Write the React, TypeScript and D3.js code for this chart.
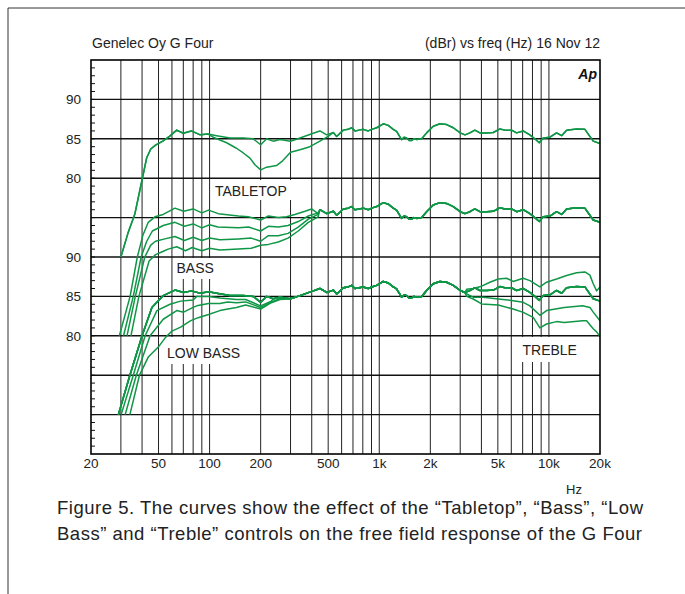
import * as d3 from 'd3'

type Pt = [number, number]

// frequency axis
const hzTicks = [20, 50, 100, 200, 500, 1000, 2000, 5000, 10000, 20000]
const hzLabels = ['20', '50', '100', '200', '500', '1k', '2k', '5k', '10k', '20k']
const hzGrid = [30, 40, 50, 60, 70, 80, 90, 100, 200, 300, 400, 500, 600, 700, 800, 900,
  1000, 2000, 3000, 4000, 5000, 6000, 7000, 8000, 9000, 10000]

// level axis (curves are stacked with 10 dB offsets, labels repeat)
const dbGrid = [90, 85, 80, 75, 70, 65, 60, 55, 50]
const dbTickValues = [90, 85, 80, 70, 65, 60]
const dbTickLabels = ['90', '85', '80', '90', '85', '80']

// flat response (top trace), 100 Hz .. 20 kHz
const flatResponse: Pt[] = [
  [110, 85.4], [132, 85.1], [158, 85.1], [181, 85.0], [200, 84.25], [217, 85.0], [237, 84.7],
  [260, 84.9], [300, 84.7], [341, 85.1], [408, 85.7], [447, 86.0], [490, 85.5], [536, 85.8],
  [561, 85.3], [614, 86.1], [656, 86.2], [687, 86.4], [719, 86.0], [760, 86.1], [805, 86.2],
  [861, 86.0], [902, 86.2], [966, 86.4], [1056, 86.9], [1130, 86.7], [1209, 86.2], [1265, 85.95],
  [1354, 84.9], [1400, 85.2], [1450, 85.1], [1500, 84.8], [1552, 84.8], [1600, 85.0], [1661, 84.9],
  [1778, 85.0], [1902, 85.75], [2081, 86.6], [2279, 86.9], [2494, 86.8], [2730, 86.4], [3000, 85.75],
  [3200, 85.5], [3422, 85.75], [3660, 86.1], [3920, 85.75], [4294, 85.75], [4700, 85.8], [5140, 86.25],
  [5500, 86.1], [6025, 86.1], [6450, 85.75], [7050, 86.0], [7720, 85.5], [8260, 85.0], [8770, 84.5],
  [9250, 85.1], [10140, 85.2], [11090, 85.75], [11880, 85.4], [12710, 86.1], [14560, 86.25],
  [16300, 86.2], [18240, 84.7], [20000, 84.4],
]

// TABLETOP group
const tabletopLow: Pt[] = [
  [30, 70], [33, 73], [36.3, 75.5], [40, 79.8], [42.6, 82.6], [45, 83.7], [48, 84.2], [53, 84.7],
  [58, 85.3], [64, 86.1], [70, 85.7], [78, 86.0], [88, 85.5], [98, 85.6],
]
const tabletopDip: Pt[] = [
  [105, 85.2], [126, 84.5], [144, 83.8], [158, 83.2], [173, 82.55], [185, 81.7], [200, 81.06],
  [217, 81.4], [248, 81.6], [266, 82.1], [300, 83.3], [341, 83.6], [390, 84.0], [447, 84.7], [500, 85.3],
]

// BASS group
const bass1: Pt[] = [
  [29.4, 60], [34, 65], [37.5, 70], [40.5, 72.8], [43.5, 74.4], [47.6, 75.1], [53.3, 75.4],
  [62.5, 76.2], [70.3, 75.8], [80, 76.1], [90, 75.6], [98.6, 75.95], [112.5, 75.5], [148, 75.2],
  [169, 75.1], [200, 74.7], [222, 75.2], [254, 75.0], [284, 75.1], [318, 75.4], [365, 75.8],
  [399, 76.1], [436, 75.5],
]
const bass2: Pt[] = [
  [31.1, 60], [35.5, 65], [39.5, 70], [42.6, 72], [46, 73.3], [53.3, 74.0], [62.5, 74.4],
  [71, 73.9], [80, 74.2], [90, 73.7], [100, 74.1], [112, 73.8], [148, 73.7], [170, 73.8],
  [200, 73.3], [222, 73.9], [254, 73.8], [290, 74.0], [333, 74.5], [382, 75.2], [436, 75.6],
]
const bass3: Pt[] = [
  [32.6, 60], [36.5, 65], [41.5, 70], [45, 71.5], [48, 72.0], [54.5, 72.3], [62.5, 72.6],
  [71, 72.1], [80, 72.5], [90, 72.1], [100, 72.4], [115, 72.2], [148, 72.3], [176, 72.4],
  [200, 72.0], [222, 72.7], [254, 72.7], [290, 73.0], [333, 73.8], [382, 74.8], [436, 75.4],
]
const bass4: Pt[] = [
  [34.4, 60], [38.3, 65], [44, 69.5], [48, 70.3], [53, 70.7], [57, 71.0], [64, 71.3],
  [72, 70.8], [79, 71.2], [90, 70.8], [100, 71.1], [115, 70.9], [148, 71.0], [176, 71.1],
  [200, 71.5], [222, 71.6], [254, 71.9], [290, 72.4], [333, 73.3], [382, 74.4], [436, 75.1],
]

// LOW BASS group
const lowBass1: Pt[] = [
  [29.0, 50], [33.9, 55], [40, 60], [45.7, 63.6], [53.3, 65.1], [62.5, 65.8], [70.3, 65.5],
  [78.4, 65.7], [88, 65.4], [98.6, 65.6],
]
const lowBass2: Pt[] = [
  [30.1, 50], [35.5, 55], [41.7, 60], [48.9, 63.2], [58.4, 64.0], [67.5, 64.4], [80, 64.55],
  [84, 65.0], [98.6, 65.0], [115, 64.8], [144, 64.6], [163, 64.6], [200, 63.8], [231, 64.4],
]
const lowBass3: Pt[] = [
  [31.8, 50], [37, 55], [44.6, 60], [53.3, 62.1], [64, 63.2], [70.3, 63.0], [80, 63.6],
  [84, 63.8], [98.6, 64.1], [115, 64.1], [128, 64.3], [144, 64.2], [163, 64.3], [200, 63.6],
  [231, 64.3], [260, 64.7],
]
const lowBass4: Pt[] = [
  [33.9, 50], [38.6, 55], [43.5, 57.3], [50, 58.6], [55, 59.8], [60, 60.6], [67.5, 61.1],
  [77, 61.9], [85.6, 62.3], [98.6, 62.7], [115, 63.2], [128, 63.4], [144, 63.6], [163, 63.9],
  [200, 63.4], [231, 64.2], [260, 64.6],
]

// TREBLE group (high end only)
const treble1: Pt[] = [
  [3274, 65.9], [3580, 66.0], [4012, 66.3], [4490, 66.8], [5024, 67.2], [5632, 67.3], [6158, 66.9],
  [7054, 67.3], [7726, 67.0], [8848, 66.2], [9690, 66.8], [11100, 67.2], [12710, 67.65],
  [14560, 68.0], [16290, 68.1], [17440, 67.7], [18240, 66.6], [19100, 65.7], [20000, 66.2],
]
const treble3: Pt[] = [
  [3274, 65.3], [3580, 64.9], [4100, 64.9], [5024, 64.67], [6158, 64.46], [7054, 64.25],
  [7726, 63.8], [8848, 62.6], [9690, 63.2], [12300, 63.6], [15800, 63.8], [17440, 63.6],
  [18240, 63.0], [20000, 61.9],
]
const treble4: Pt[] = [
  [3274, 65.0], [3580, 64.67], [4012, 64.04], [5024, 63.9], [6158, 63.4], [7054, 62.97],
  [8080, 62.33], [8848, 61.0], [9690, 61.5], [11100, 61.8], [12300, 61.7], [15800, 61.9],
  [16670, 61.9], [18240, 60.9], [19100, 60.5], [20000, 59.9],
]

const GREEN = '#0f9646'
const FONT = '"Liberation Sans", Arial, Helvetica, sans-serif'

const shift = (pts: Pt[], off: number): Pt[] => pts.map(([f, v]) => [f, v + off] as Pt)
const joinAfter = (head: Pt[], tail: Pt[]): Pt[] =>
  [...head, ...tail.filter((p) => p[0] > head[head.length - 1][0])]
const joinBefore = (head: Pt[], tail: Pt[]): Pt[] =>
  [...head.filter((p) => p[0] < tail[0][0]), ...tail]

export default function App() {
  const left = 91
  const right = 600
  const top = 60
  const bottom = 454

  const x = d3.scaleLog().domain([20, 20000]).range([left, right])
  const y = d3.scaleLinear().domain([45, 95]).range([bottom, top])

  const line = d3
    .line<Pt>()
    .x((d) => x(d[0]))
    .y((d) => y(d[1]))

  const group3Flat = joinAfter(lowBass1, shift(flatResponse, -20))
  const curves: Pt[][] = [
    joinAfter(tabletopLow, flatResponse),
    joinAfter([...tabletopLow, ...tabletopDip], flatResponse),
    joinAfter(bass1, shift(flatResponse, -10)),
    joinAfter(bass2, shift(flatResponse, -10)),
    joinAfter(bass3, shift(flatResponse, -10)),
    joinAfter(bass4, shift(flatResponse, -10)),
    group3Flat,
    joinAfter(lowBass2, shift(flatResponse, -20)),
    joinAfter(lowBass3, shift(flatResponse, -20)),
    joinAfter(lowBass4, shift(flatResponse, -20)),
    joinBefore(group3Flat, treble1),
    joinBefore(group3Flat, treble3),
    joinBefore(group3Flat, treble4),
  ]

  const minorTicks = d3.range(46, 95)

  const labels = [
    { text: 'TABLETOP', x: 215, y: 196, box: [212, 180, 80, 20] },
    { text: 'BASS', x: 176.5, y: 272.5, box: [174, 258, 43, 21] },
    { text: 'LOW BASS', x: 167, y: 358, box: [164, 337, 81, 27] },
    { text: 'TREBLE', x: 522.5, y: 355, box: [519, 337, 61, 25] },
  ]

  return (
    <svg
      width={685}
      height={594}
      style={{ position: 'absolute', left: 0, top: 0, background: '#fff' }}
      fontFamily={FONT}
    >
      <rect x={0} y={0} width={685} height={594} fill="#fff" />
      {/* page border */}
      <line x1={8} y1={8} x2={685} y2={8} stroke="#333" strokeWidth={1} />
      <line x1={8} y1={8} x2={8} y2={594} stroke="#333" strokeWidth={1} />

      <text x={left + 1} y={48} fontSize={14} fill="#222">Genelec Oy G Four</text>
      <text x={right} y={48} fontSize={14} fill="#222" textAnchor="end">
        (dBr) vs freq (Hz) 16 Nov 12
      </text>

      {/* vertical grid */}
      {hzGrid.map((f) => (
        <line key={'v' + f} x1={x(f)} x2={x(f)} y1={top} y2={bottom} stroke="#222" strokeWidth={1} />
      ))}
      {/* horizontal grid */}
      {dbGrid.map((d) => (
        <line key={'h' + d} x1={left} x2={right} y1={y(d)} y2={y(d)} stroke="#111" strokeWidth={1.4} />
      ))}
      {/* minor ticks on left */}
      {minorTicks.map((d) => (
        <line key={'m' + d} x1={left} x2={left + 4} y1={y(d)} y2={y(d)} stroke="#111" strokeWidth={1} />
      ))}

      {/* label boxes interrupt the grid */}
      {labels.map((l) => (
        <rect key={'b' + l.text} x={l.box[0]} y={l.box[1]} width={l.box[2]} height={l.box[3]} fill="#fff" />
      ))}

      {/* curves */}
      {curves.map((c, i) => (
        <path key={'c' + i} d={line(c) || ''} fill="none" stroke={GREEN} strokeWidth={1.5} strokeLinejoin="round" />
      ))}

      {labels.map((l) => (
        <text key={'t' + l.text} x={l.x} y={l.y} fontSize={14} fill="#222">{l.text}</text>
      ))}

      <text x={right - 3} y={79} fontSize={14} fontWeight="bold" fontStyle="italic" textAnchor="end" fill="#111">
        Ap
      </text>

      {/* frame */}
      <rect x={left} y={top} width={right - left} height={bottom - top} fill="none" stroke="#000" strokeWidth={1.6} />

      {/* y labels */}
      {dbTickValues.map((d, i) => (
        <text key={'yl' + i} x={81} y={y(d)} dy="0.35em" fontSize={13.5} textAnchor="end" fill="#222">
          {dbTickLabels[i]}
        </text>
      ))}
      {/* x labels */}
      {hzTicks.map((f, i) => (
        <text key={'xl' + f} x={x(f)} y={468} fontSize={13.5} textAnchor="middle" fill="#222">
          {hzLabels[i]}
        </text>
      ))}
      <text x={574} y={494} fontSize={13} textAnchor="middle" fill="#222">Hz</text>

      {/* caption */}
      <text x={57} y={514} fontSize={18.5} fill="#222" textLength={586} lengthAdjust="spacing">
        Figure 5. The curves show the effect of the “Tabletop”, “Bass”, “Low
      </text>
      <text x={57} y={540} fontSize={18.5} fill="#222" textLength={585} lengthAdjust="spacing">
        Bass” and “Treble” controls on the free field response of the G Four
      </text>
    </svg>
  )
}
